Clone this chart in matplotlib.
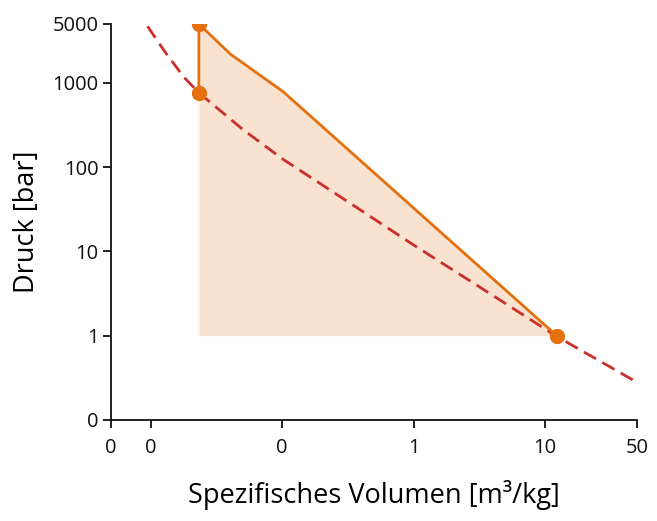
import matplotlib
matplotlib.use("Agg")
import matplotlib.pyplot as plt
from matplotlib.ticker import NullLocator

# Sättigungslinie (gestrichelt)
sat_v = [0.00948, 0.0126, 0.01782, 0.02328, 0.0501, 0.1, 0.316, 1.0, 3.16, 12.25, 49.9]
sat_p = [4690, 2440, 1178, 762, 281, 126, 38.9, 11.9, 3.80, 0.98, 0.28]

# Prozesslinie (orange)
proc_v = [0.02328, 0.02328, 0.0405, 0.102, 12.25]
proc_p = [762, 5000, 2190, 784, 1.0]

# Markierte Zustandspunkte
pts_v = [0.02328, 0.02328, 12.25]
pts_p = [5000, 762, 1.0]

x_ticks = [0.005, 0.01, 0.1, 1, 10, 50]
x_ticklabels = ["0", "0", "0", "1", "10", "50"]
y_ticks = [0.1, 1, 10, 100, 1000, 5000]
y_ticklabels = ["0", "1", "10", "100", "1000", "5000"]

ORANGE = "#e5700e"
RED = "#c9302c"
FILL = "#f9e2cf"

plt.rcParams["font.family"] = ["Open Sans", "DejaVu Sans"]

fig = plt.figure(figsize=(6.57, 5.21), dpi=100)
ax = fig.add_axes([0.169, 0.194, 0.8006, 0.760])
ax.set_xscale("log")
ax.set_yscale("log")

# Fläche unter der Prozesslinie bis p = 1 bar
ax.fill_between(proc_v[1:], proc_p[1:], 1.0, color=FILL, lw=0, zorder=1)
ax.plot(sat_v, sat_p, color=RED, lw=2.0, ls=(0, (5, 2.6)), zorder=2)
ax.plot(proc_v, proc_p, color=ORANGE, lw=2.0, zorder=3)
ax.plot(pts_v, pts_p, "o", color=ORANGE, ms=10, zorder=4)

ax.set_xlim(0.005, 50)
ax.set_ylim(0.1, 5000)
ax.set_xticks(x_ticks)
ax.set_xticklabels(x_ticklabels)
ax.set_yticks(y_ticks)
ax.set_yticklabels(y_ticklabels)
ax.xaxis.set_minor_locator(NullLocator())
ax.yaxis.set_minor_locator(NullLocator())

for s in ("top", "right"):
    ax.spines[s].set_visible(False)
for s in ("left", "bottom"):
    ax.spines[s].set_linewidth(1.3)
    ax.spines[s].set_color("#111111")
ax.tick_params(length=6, width=1.3, labelsize=14.5, colors="#111111", pad=3)
ax.tick_params(axis="x", pad=7)

ax.set_xlabel("Spezifisches Volumen [m³/kg]", fontsize=19.5, labelpad=16)
ax.set_ylabel("Druck [bar]", fontsize=19.5, labelpad=8)

fig.savefig("out.png", dpi=100)
